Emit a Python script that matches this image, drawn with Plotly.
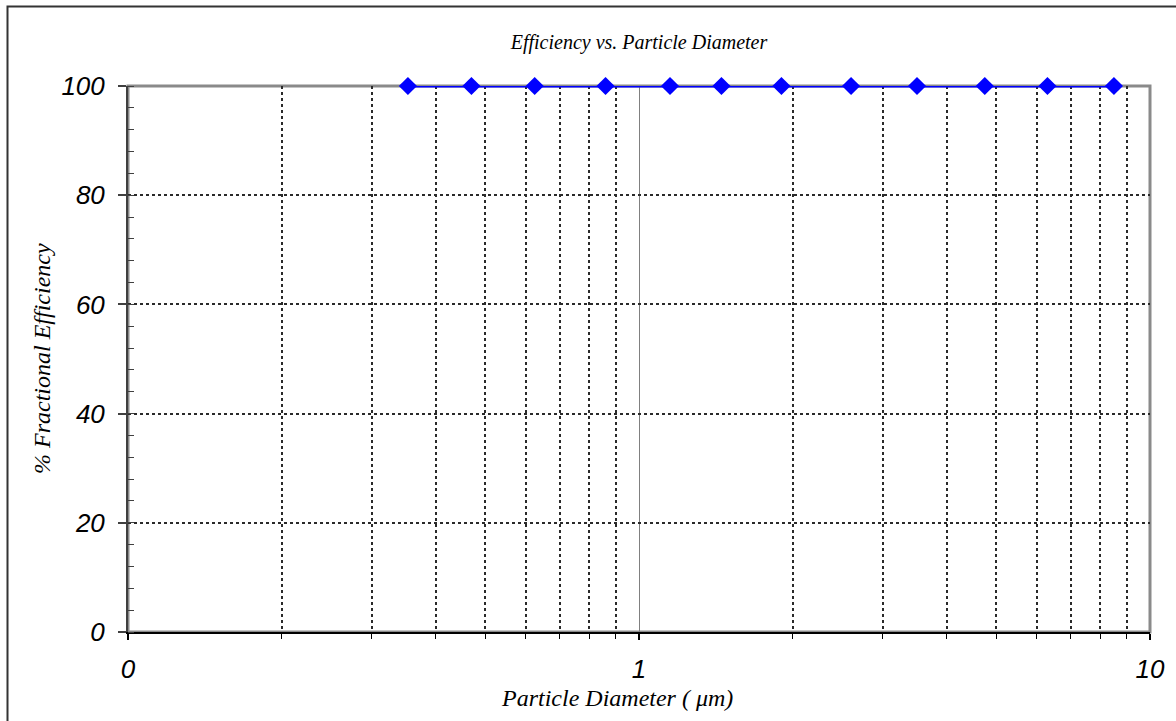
import plotly.graph_objects as go

# Data
particle_diameter = [0.353, 0.47, 0.625, 0.86, 1.15, 1.45, 1.9, 2.6, 3.5, 4.75, 6.3, 8.5]
fractional_efficiency = [100, 100, 100, 100, 100, 100, 100, 100, 100, 100, 100, 100]

x_major_ticks = [0.1, 1, 10]
x_major_labels = ["0", "1", "10"]
x_minor_ticks = [0.2, 0.3, 0.4, 0.5, 0.6, 0.7, 0.8, 0.9, 2, 3, 4, 5, 6, 7, 8, 9]
y_ticks = [0, 20, 40, 60, 80, 100]

title_text = "Efficiency vs. Particle Diameter"
x_title = "Particle Diameter ( μm)"
y_title = "% Fractional Efficiency"

W, H = 1176, 721
L, R, T, B = 128, 26, 86, 89
pw, ph = W - L - R, H - T - B

title_font = dict(family="Liberation Serif, Times New Roman, serif", size=20, color="black", style="italic")
axis_title_font = dict(family="Liberation Serif, Times New Roman, serif", size=24, color="black", style="italic")
sans = dict(family="Liberation Sans, Arial, sans-serif", size=26, color="black", style="italic")

fig = go.Figure()
fig.add_trace(go.Scatter(
    x=particle_diameter, y=fractional_efficiency, mode="lines+markers",
    line=dict(color="#0000FF", width=3),
    marker=dict(symbol="diamond", size=14, color="#0000FF"),
    showlegend=False, cliponaxis=False,
))

grid_col = "#2a2a2a"

fig.update_layout(
    width=W, height=H,
    margin=dict(l=L, r=R, t=T, b=B),
    paper_bgcolor="white", plot_bgcolor="white",
    title=dict(text=title_text, font=title_font, x=(L + pw / 2) / W, xanchor="center",
               y=1 - 42 / H, yanchor="middle", xref="container", yref="container"),
    xaxis=dict(
        type="log", range=[-1, 1],
        tickmode="array", tickvals=x_major_ticks, ticktext=x_major_labels,
        tickfont=sans, ticks="outside", ticklen=6, tickwidth=2, tickcolor="black",
        ticklabelstandoff=7,
        showgrid=True, gridcolor="#808080", gridwidth=1,
        showline=True, linecolor="black", linewidth=2,
        zeroline=False,
        minor=dict(tickmode="array", tickvals=x_minor_ticks, ticks="outside", ticklen=5,
                   tickcolor="black", tickwidth=1,
                   showgrid=True, gridcolor=grid_col, gridwidth=2, griddash="dot"),
    ),
    yaxis=dict(
        range=[0, 100], tickmode="array", tickvals=y_ticks,
        tickfont=sans, ticks="outside", ticklen=8, tickwidth=2, tickcolor="#404040",
        ticklabelstandoff=8,
        showgrid=True, gridcolor=grid_col, gridwidth=2, griddash="dot",
        showline=True, linecolor="#404040", linewidth=2,
        zeroline=False,
        minor=dict(dtick=4, ticks="inside", ticklen=6, tickcolor="#404040", tickwidth=1,
                   showgrid=False),
    ),
)

# Plot-area top/right border (gray)
fig.add_shape(type="rect", xref="x domain", yref="y domain", x0=0, x1=1, y0=0, y1=1,
              line=dict(color="#8a8a8a", width=3), layer="below")

# Outer chart border (visible on top and left)
fig.add_shape(type="rect", xref="paper", yref="paper",
              x0=(7.5 - L) / pw, x1=1.2, y0=-0.4, y1=(H - B - 6.5) / ph,
              line=dict(color="#333333", width=2), layer="below")

fig.add_annotation(text=x_title, xref="paper", yref="paper",
                   x=(617 - L) / pw, y=(H - B - 698) / ph, xanchor="center", yanchor="middle",
                   showarrow=False, font=axis_title_font)
fig.add_annotation(text=y_title, xref="paper", yref="paper",
                   x=(42 - L) / pw, y=0.5, xanchor="center", yanchor="middle",
                   textangle=-90, showarrow=False, font=axis_title_font)

fig.write_html("out.html", config={"displayModeBar": False},
               post_script="document.body.style.margin='0px';document.body.style.overflow='hidden';")
